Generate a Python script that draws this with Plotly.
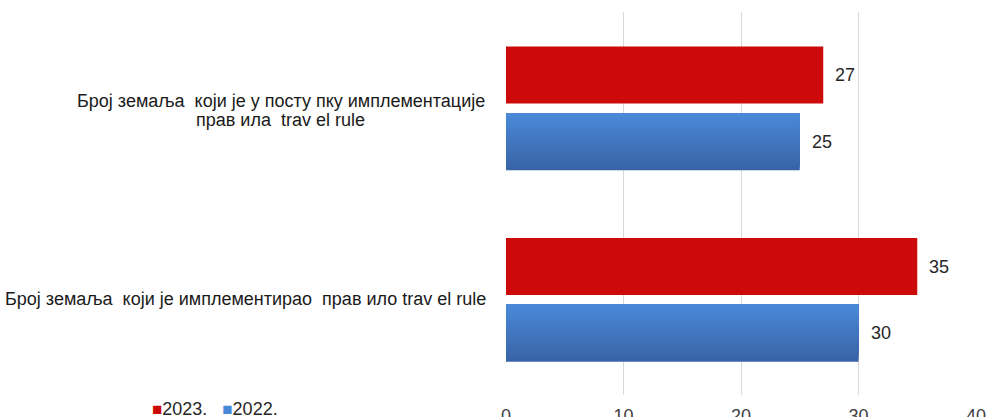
import plotly.graph_objects as go

# Categories, bottom to top on the y axis
categories = [
    "Број земаља  који је имплементирао  прав ило trav el rule",
    "Број земаља  који је у посту пку имплементације<br>прав ила  trav el rule",
]
values_2023 = [35, 27]
values_2022 = [30, 25]
series_names = ["2023.", "2022."]
x_ticks = [0, 10, 20, 30, 40]

RED = "#cc0a0a"
BLUE_TOP = (74, 137, 216)
BLUE_BOTTOM = (56, 100, 167)
FONT = "Liberation Sans, Arial, sans-serif"
TEXT_SIZE = 18

BAR_W = 0.298
OFF_2023 = 0.022
OFF_2022 = -0.326
N_STRIPS = 20

fig = go.Figure()

# 2022 bars: a vertical gradient built from stacked layers; each layer runs from
# its own start up to the bar top, so the next one drawn covers it without seams
step = BAR_W / N_STRIPS
for i in range(N_STRIPS):
    t = i / (N_STRIPS - 1)  # 0 = bottom, 1 = top
    rgb = tuple(round(BLUE_BOTTOM[k] + (BLUE_TOP[k] - BLUE_BOTTOM[k]) * t) for k in range(3))
    fig.add_trace(go.Bar(
        y=list(range(len(categories))),
        x=values_2022,
        orientation="h",
        width=BAR_W - i * step,
        offset=OFF_2022 + i * step,
        marker=dict(color="rgb(%d,%d,%d)" % rgb, line=dict(width=0)),
        name=series_names[1],
        showlegend=False,
        hoverinfo="x+name" if i == 0 else "skip",
    ))

fig.add_trace(go.Bar(
    y=list(range(len(categories))),
    x=values_2023,
    orientation="h",
    width=BAR_W,
    offset=OFF_2023,
    marker=dict(color=RED, line=dict(width=0)),
    name=series_names[0],
    showlegend=False,
))

annotations = []
# Value labels just past the end of each bar
for vals, off in ((values_2023, OFF_2023), (values_2022, OFF_2022)):
    for idx, v in enumerate(vals):
        annotations.append(dict(
            x=v, y=idx + off + BAR_W / 2, xref="x", yref="y",
            text=str(v), showarrow=False, xanchor="left", yanchor="middle",
            xshift=10, font=dict(family=FONT, size=TEXT_SIZE, color="#262626"),
        ))

# Category labels; a two-line label is set line by line with a tight leading,
# every line centred on the same point
label_font = dict(family=FONT, size=TEXT_SIZE, color="#1a1a1a")
for idx, label in enumerate(categories):
    lines = label.split("<br>")
    if len(lines) == 1:
        annotations.append(dict(
            x=0, y=idx, xref="paper", yref="y", text=label, showarrow=False,
            xanchor="right", yanchor="middle", xshift=-18, font=label_font,
        ))
    else:
        leading = 19
        first_shift = 7
        for j, line in enumerate(lines):
            annotations.append(dict(
                x=-0.479, y=idx, xref="paper", yref="y", text=line, showarrow=False,
                xanchor="center", yanchor="middle", yshift=first_shift - j * leading,
                font=label_font,
            ))

# Legend row
sq = "<span style='color:%s;font-size:17px'>■</span>"
annotations.append(dict(
    x=-0.758, y=-0.036, xref="paper", yref="paper", xanchor="left", yanchor="middle",
    showarrow=False, align="left",
    text=(sq % RED) + series_names[0] + "&nbsp;&nbsp;&nbsp;"
         + (sq % ("rgb(%d,%d,%d)" % BLUE_TOP)) + series_names[1],
    font=dict(family=FONT, size=TEXT_SIZE, color="#262626"),
))

fig.update_layout(
    width=987, height=417,
    margin=dict(l=506, r=11, t=12, b=22),
    barmode="overlay",
    paper_bgcolor="white", plot_bgcolor="white",
    showlegend=False,
    annotations=annotations,
    xaxis=dict(
        range=[0, 40], tickvals=x_ticks, showgrid=True, gridcolor="#d9d9d9", gridwidth=1,
        zeroline=False, showline=False, ticks="", automargin=False,
        ticklabelstandoff=8, tickfont=dict(family=FONT, size=TEXT_SIZE, color="#404040"),
        fixedrange=True,
    ),
    yaxis=dict(
        range=[-0.5, 1.5], showticklabels=False, showgrid=False, zeroline=False,
        showline=False, ticks="", automargin=False, fixedrange=True,
    ),
)

fig.write_html("out.html")
